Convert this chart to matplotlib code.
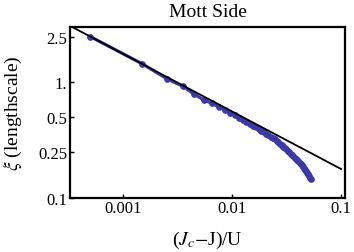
import matplotlib
matplotlib.use("Agg")
import matplotlib.pyplot as plt
import numpy as np

# data: (Jc-J)/U vs correlation length
x_data = [0.0005, 0.0015, 0.0025, 0.0035, 0.0045, 0.0055, 0.0065, 0.0075, 0.0085, 0.0095,
          0.0105, 0.0115, 0.0125, 0.0135, 0.0145, 0.0155, 0.0165, 0.0175, 0.0185, 0.0195,
          0.0205, 0.0215, 0.0225, 0.0235, 0.0245, 0.0255, 0.0265, 0.0275, 0.0285, 0.0295,
          0.0305, 0.0315, 0.0325, 0.0335, 0.0345, 0.0355, 0.0365, 0.0375, 0.0385, 0.0395,
          0.0405, 0.0415, 0.0425, 0.0435, 0.0445, 0.0455, 0.0465, 0.0475, 0.0485, 0.0495,
          0.0505, 0.0515, 0.0525]
xi_data = [2.50, 1.45, 1.08, 0.93, 0.79, 0.705, 0.66, 0.617, 0.578, 0.548,
           0.519, 0.496, 0.476, 0.458, 0.439, 0.423, 0.408, 0.394, 0.381, 0.369,
           0.358, 0.348, 0.338, 0.329, 0.320, 0.312, 0.303, 0.294, 0.285, 0.277,
           0.270, 0.262, 0.255, 0.248, 0.241, 0.235, 0.229, 0.223, 0.217, 0.211,
           0.206, 0.201, 0.196, 0.191, 0.186, 0.181, 0.175, 0.170, 0.165, 0.160,
           0.155, 0.149, 0.145]

# power-law fit line endpoints
fit_x = [0.0003, 0.1]
fit_y = [3.23, 0.177]

xticks = [0.001, 0.01, 0.1]
xticklabels = ["0.001", "0.01", "0.1"]
yticks = [0.1, 0.25, 0.5, 1.0, 2.5]
yticklabels = ["0.1", "0.25", "0.5", "1.", "2.5"]

plt.rcParams['font.family'] = ['Liberation Serif', 'DejaVu Serif']
plt.rcParams['mathtext.fontset'] = 'stix'

fig = plt.figure(figsize=(3.54, 2.53), dpi=100)
ax = fig.add_axes([0.198, 0.215, 0.776, 0.674])

blue = '#3a3aa6'
ax.plot(x_data, xi_data, '-', color=blue, lw=2.3, marker='o', ms=3.8, zorder=2)
ax.plot(fit_x, fit_y, '-', color='black', lw=1.3, zorder=3)

ax.set_xscale('log')
ax.set_yscale('log')
ax.set_xlim(0.000325, 0.108)
ax.set_ylim(0.1, 3.03)
ax.minorticks_off()
ax.set_xticks(xticks)
ax.set_xticklabels(xticklabels)
ax.set_yticks(yticks)
ax.set_yticklabels(yticklabels)
ax.tick_params(direction='in', length=3, width=1, labelsize=12, pad=2)

for s in ax.spines.values():
    s.set_linewidth(1.6)

ax.set_title('Mott Side', fontsize=14, pad=8)
ax.set_xlabel(r'($J_c$$-$J)/U', fontsize=14, labelpad=9)
ax.set_ylabel(r'$\xi$ (lengthscale)', fontsize=14, labelpad=10)

fig.savefig('out.png', dpi=100)
